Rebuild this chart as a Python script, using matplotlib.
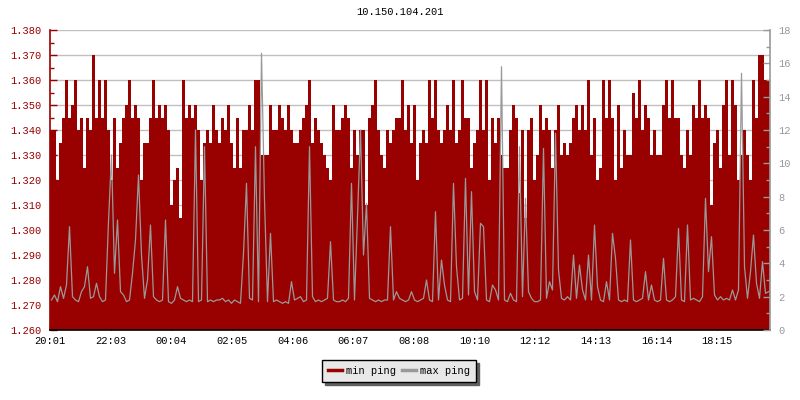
import numpy as np
import matplotlib
matplotlib.use('Agg')
import matplotlib.pyplot as plt
from matplotlib.lines import Line2D

plt.rcParams['font.family'] = ['Liberation Mono', 'DejaVu Sans Mono']

title = '10.150.104.201'
time_labels = ['20:01', '22:03', '00:04', '02:05', '04:06', '06:07',
               '08:08', '10:10', '12:12', '14:13', '16:14', '18:15']
step_min = 6  # one sample every 6 minutes, 24 h

min_ping = [
    1.34, 1.34, 1.32, 1.335, 1.345, 1.36, 1.345, 1.35, 1.36, 1.34,
    1.345, 1.325, 1.345, 1.34, 1.37, 1.345, 1.36, 1.345, 1.36, 1.34,
    1.32, 1.345, 1.325, 1.335, 1.345, 1.35, 1.36, 1.345, 1.35, 1.345,
    1.32, 1.335, 1.335, 1.345, 1.36, 1.345, 1.35, 1.345, 1.35, 1.34,
    1.31, 1.32, 1.325, 1.305, 1.36, 1.345, 1.35, 1.345, 1.35, 1.34,
    1.32, 1.335, 1.34, 1.335, 1.35, 1.34, 1.335, 1.345, 1.34, 1.35,
    1.335, 1.325, 1.345, 1.325, 1.34, 1.34, 1.35, 1.34, 1.36, 1.36,
    1.33, 1.33, 1.33, 1.35, 1.34, 1.34, 1.35, 1.345, 1.34, 1.35,
    1.34, 1.335, 1.335, 1.34, 1.345, 1.35, 1.36, 1.335, 1.345, 1.34,
    1.335, 1.33, 1.325, 1.32, 1.35, 1.34, 1.34, 1.345, 1.35, 1.345,
    1.325, 1.34, 1.33, 1.34, 1.34, 1.31, 1.345, 1.35, 1.36, 1.34,
    1.33, 1.325, 1.34, 1.335, 1.34, 1.345, 1.345, 1.36, 1.34, 1.35,
    1.335, 1.35, 1.32, 1.335, 1.34, 1.335, 1.36, 1.345, 1.36, 1.34,
    1.335, 1.34, 1.35, 1.34, 1.36, 1.335, 1.34, 1.36, 1.345, 1.345,
    1.325, 1.335, 1.34, 1.36, 1.34, 1.36, 1.32, 1.345, 1.335, 1.345,
    1.33, 1.325, 1.325, 1.34, 1.35, 1.345, 1.315, 1.34, 1.305, 1.34,
    1.345, 1.32, 1.33, 1.35, 1.34, 1.345, 1.34, 1.325, 1.34, 1.35,
    1.33, 1.335, 1.33, 1.335, 1.345, 1.35, 1.34, 1.35, 1.34, 1.36,
    1.33, 1.345, 1.32, 1.325, 1.36, 1.345, 1.36, 1.345, 1.32, 1.35,
    1.325, 1.34, 1.33, 1.33, 1.355, 1.345, 1.36, 1.34, 1.35, 1.345,
    1.33, 1.34, 1.33, 1.33, 1.35, 1.36, 1.345, 1.36, 1.345, 1.345,
    1.33, 1.325, 1.34, 1.33, 1.35, 1.345, 1.36, 1.345, 1.35, 1.345,
    1.31, 1.335, 1.34, 1.325, 1.35, 1.36, 1.33, 1.36, 1.35, 1.32,
    1.33, 1.34, 1.33, 1.32, 1.36, 1.345, 1.37, 1.37, 1.36, 1.36,
]

max_ping = [
    1.8, 2.1, 1.7, 2.6, 1.9, 2.7, 6.2, 2.0, 1.8, 1.7,
    2.3, 2.6, 3.8, 1.9, 2.0, 2.8, 2.0, 1.7, 1.8, 6.5,
    10.5, 3.4, 6.6, 2.3, 2.1, 1.7, 1.8, 3.4, 5.4, 9.3,
    4.5, 1.9, 3.0, 6.3, 2.0, 1.8, 1.7, 1.8, 6.6, 1.7,
    1.6, 1.8, 2.6, 1.9, 1.8, 1.7, 1.8, 1.7, 12.0, 1.7,
    1.8, 11.0, 1.7, 1.8, 1.7, 1.8, 1.8, 1.9, 1.7, 1.8,
    1.6, 1.8, 1.7, 1.6, 4.6, 8.8, 1.9, 1.8, 11.0, 1.7,
    16.6, 7.8, 1.7, 5.8, 1.7, 1.8, 1.7, 1.6, 1.7, 1.6,
    2.9, 1.8, 1.9, 2.0, 1.7, 1.8, 11.0, 2.0, 1.7, 1.8,
    1.7, 1.8, 1.9, 5.3, 1.8, 1.7, 1.7, 1.8, 1.7, 1.9,
    8.8, 1.8, 6.8, 12.0, 4.5, 7.6, 1.9, 1.8, 1.7, 1.8,
    1.7, 1.8, 1.8, 6.2, 1.8, 2.3, 1.9, 1.8, 1.7, 1.8,
    2.3, 1.8, 1.7, 1.8, 1.9, 3.0, 1.8, 1.7, 7.1, 1.8,
    4.2, 2.7, 1.8, 1.7, 8.8, 3.8, 1.8, 1.9, 9.1, 2.1,
    8.3, 2.3, 1.8, 6.4, 6.2, 1.8, 1.7, 2.7, 2.4, 1.8,
    15.8, 1.8, 1.7, 2.2, 1.8, 1.7, 11.0, 2.0, 7.9, 2.3,
    1.9, 1.7, 1.7, 1.8, 10.9, 1.9, 2.9, 2.4, 11.8, 3.6,
    1.9, 1.8, 2.0, 1.8, 4.5, 1.9, 3.9, 2.4, 1.8, 4.5,
    1.8, 6.3, 2.6, 1.8, 1.7, 2.9, 1.8, 5.8, 4.3, 1.8,
    1.7, 1.8, 1.7, 5.4, 1.8, 1.7, 1.8, 1.9, 3.5, 1.8,
    2.7, 1.8, 1.7, 1.8, 4.3, 1.8, 1.7, 1.8, 2.0, 6.1,
    1.8, 1.7, 6.3, 1.8, 1.9, 1.8, 1.7, 2.0, 7.9, 3.5,
    5.6, 2.1, 1.8, 2.0, 1.8, 1.9, 1.8, 2.4, 1.8, 2.4,
    15.4, 3.8, 1.9, 3.5, 5.7, 2.8, 1.9, 4.1, 2.2, 2.3,
]

red = '#990000'
gray = '#999999'

n = len(min_ping)
edges = np.arange(n + 1) * step_min
x = (np.arange(n) + 0.5) * step_min
total = edges[-1]

fig = plt.figure(figsize=(8, 4), dpi=100)
ax = fig.add_axes([0.0625, 0.175, 0.9, 0.75])
ax2 = ax.twinx()

ax.stairs(min_ping, edges, baseline=1.26, fill=True, color=red, lw=0, zorder=2)
ax2.plot(x, max_ping, color=gray, lw=0.9)

ax.set_xlim(0, total)
ax.set_ylim(1.26, 1.38)
ax2.set_ylim(0, 18)

# x ticks: 12 labels, ~121.3 min apart
tick_gap = total * 60.67 / 720
ax.set_xticks([i * tick_gap for i in range(len(time_labels))])
ax.set_xticklabels(time_labels)

ax.set_yticks(np.arange(1.26, 1.3801, 0.01))
ax.set_yticks(np.arange(1.265, 1.38, 0.01), minor=True)
ax.yaxis.set_major_formatter(matplotlib.ticker.FormatStrFormatter('%.3f'))
ax2.set_yticks(np.arange(0, 19, 2))
ax2.set_yticks(np.arange(1, 18, 2), minor=True)

ax.grid(axis='y', color='#c0c0c0', lw=1, zorder=0)
ax.set_axisbelow(True)

for s in ['top', 'right']:
    ax.spines[s].set_visible(False)
ax2.spines['top'].set_visible(False)
ax2.spines['left'].set_visible(False)
ax2.spines['bottom'].set_visible(False)
ax.spines['left'].set_color(red)
ax.spines['bottom'].set_color('black')
ax2.spines['right'].set_color(gray)
for sp in list(ax.spines.values()) + list(ax2.spines.values()):
    sp.set_linewidth(1.2)

ax.tick_params(axis='y', which='both', direction='in', colors=red, labelsize=7.5, pad=6)
ax.tick_params(axis='y', which='major', length=5, width=1)
ax.tick_params(axis='y', which='minor', length=3, width=1)
ax.tick_params(axis='x', direction='in', length=5, width=1, colors='black', labelsize=7.5, pad=4)
ax2.tick_params(axis='y', which='both', direction='in', colors=gray, labelsize=7.5, pad=6)
ax2.tick_params(axis='y', which='major', length=5, width=1)
ax2.tick_params(axis='y', which='minor', length=3, width=1)

fig.text(0.5, 0.97, title, ha='center', va='center', fontsize=7.5)

handles = [Line2D([], [], color=red, lw=2.5), Line2D([], [], color=gray, lw=2.5)]
leg = fig.legend(handles, ['min ping', 'max ping'], loc='center',
                 bbox_to_anchor=(0.499, 0.0725), ncol=2, fontsize=7.5,
                 frameon=True, fancybox=False, shadow={'color': '#606060', 'alpha': 1},
                 handlelength=1.3, handletextpad=0.4, columnspacing=0.6,
                 borderpad=0.6, borderaxespad=0)
leg.get_frame().set_facecolor('#e8e8e8')
leg.get_frame().set_edgecolor('black')
leg.get_frame().set_alpha(1)
leg.get_frame().set_linewidth(1)

fig.savefig('out.png', dpi=100)
